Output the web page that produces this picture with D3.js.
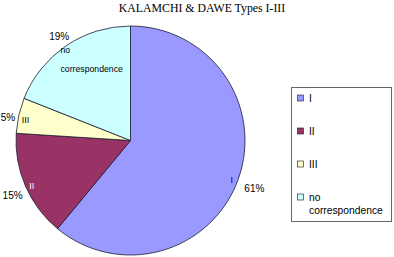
<!DOCTYPE html>
<html>
<head>
<meta charset="utf-8">
<script src="https://cdn.jsdelivr.net/npm/d3@7"></script>
<style>
  body { margin: 0; background: #fff; }
  svg { display: block; }
</style>
</head>
<body>
<div id="chart"></div>
<script>
const categories = ["I", "II", "III", "no correspondence"];
const values = [61, 15, 5, 19];
const colors = ["#9999FF", "#993366", "#FFFFCC", "#CCFFFF"];
const inLabelColors = ["#000066", "#ffffff", "#000000", "#000000"];

const width = 394;
const height = 257;
const cx = 130.5;
const cy = 140.5;
const radius = 114.5;
const sans = "'Liberation Sans', Arial, sans-serif";

const svg = d3.select("#chart").append("svg")
    .attr("width", width)
    .attr("height", height);

svg.append("text")
    .attr("x", 202)
    .attr("y", 12)
    .attr("text-anchor", "middle")
    .style("font-family", "'Liberation Serif', 'Times New Roman', serif")
    .style("font-size", "11.8px")
    .text("KALAMCHI & DAWE Types I-III");

const data = categories.map(function (c, i) {
    return { name: c, value: values[i], color: colors[i], inColor: inLabelColors[i] };
});

const pie = d3.pie()
    .sort(null)
    .value(function (d) { return d.value; });
const arcs = pie(data);

const arc = d3.arc().innerRadius(0).outerRadius(radius);

const g = svg.append("g")
    .attr("transform", `translate(${cx}, ${cy})`);

g.selectAll("path")
    .data(arcs)
    .join("path")
    .attr("d", arc)
    .attr("fill", function (d) { return d.data.color; })
    .attr("stroke", "#1a1a33")
    .attr("stroke-width", 0.8);

function midAngle(d) { return (d.startAngle + d.endAngle) / 2; }

// percentage labels just outside the rim
g.selectAll(".pct")
    .data(arcs)
    .join("text")
    .attr("class", "pct")
    .attr("text-anchor", "middle")
    .attr("dy", "0.35em")
    .style("font-family", sans)
    .style("font-size", "10px")
    .text(function (d) { return d.data.value + "%"; })
    .each(function (d) {
        const a = midAngle(d);
        const w = this.getComputedTextLength();
        const s = Math.sin(a), c = Math.cos(a);
        const dist = radius + 3 + (w / 2) * Math.abs(s) + 4.5 * Math.abs(c);
        const yShift = c > 0.7 ? 1 : 4;
        d3.select(this)
            .attr("x", dist * s + (s > 0 ? 3 : 0))
            .attr("y", -dist * c + yShift);
    });

// category labels inside the slices
const inArc = d3.arc().innerRadius(radius - 7).outerRadius(radius - 7);
g.selectAll(".cat")
    .data(arcs.filter(function (d) { return d.data.name !== "no correspondence"; }))
    .join("text")
    .attr("class", "cat")
    .attr("x", function (d) { return inArc.centroid(d)[0]; })
    .attr("y", function (d) { return inArc.centroid(d)[1] + 3; })
    .attr("dy", "0.35em")
    .attr("text-anchor", "middle")
    .attr("fill", function (d) { return d.data.inColor; })
    .style("font-family", sans)
    .style("font-size", "9px")
    .text(function (d) { return d.data.name; });

const nc = arcs.filter(function (d) { return d.data.name === "no correspondence"; });
g.selectAll(".nc")
    .data(nc)
    .join("text")
    .attr("class", "nc")
    .attr("transform", "translate(-70, -91)")
    .attr("fill", function (d) { return d.data.inColor; })
    .style("font-family", sans)
    .style("font-size", "8.7px")
    .selectAll("tspan")
    .data(["no", "correspondence"])
    .join("tspan")
    .attr("x", 0)
    .attr("dy", function (w, i) { return i === 0 ? "0.35em" : "19.5px"; })
    .text(function (w) { return w; });

// legend
const legend = svg.append("g");
legend.append("rect")
    .attr("x", 291.5)
    .attr("y", 87.5)
    .attr("width", 100)
    .attr("height", 134)
    .attr("fill", "#fff")
    .attr("stroke", "#666")
    .attr("stroke-width", 1);

const legendY = d3.scalePoint()
    .domain(categories)
    .range([98, 197]);

const items = legend.selectAll(".item")
    .data(data)
    .join("g")
    .attr("class", "item")
    .attr("transform", function (d) { return `translate(300, ${legendY(d.name)})`; });

items.append("rect")
    .attr("x", -2.5)
    .attr("y", -3)
    .attr("width", 6)
    .attr("height", 6)
    .attr("fill", function (d) { return d.color; })
    .attr("stroke", "#333")
    .attr("stroke-width", 0.7);

items.append("text")
    .style("font-family", sans)
    .style("font-size", "10.3px")
    .each(function (d) {
        const words = d.name === "no correspondence" ? ["no", "correspondence"] : [d.name];
        d3.select(this).selectAll("tspan")
            .data(words)
            .join("tspan")
            .attr("x", 9)
            .attr("dy", function (w, i) { return i === 0 ? "0.35em" : "13px"; })
            .text(function (w) { return w; });
    });
</script>
</body>
</html>
